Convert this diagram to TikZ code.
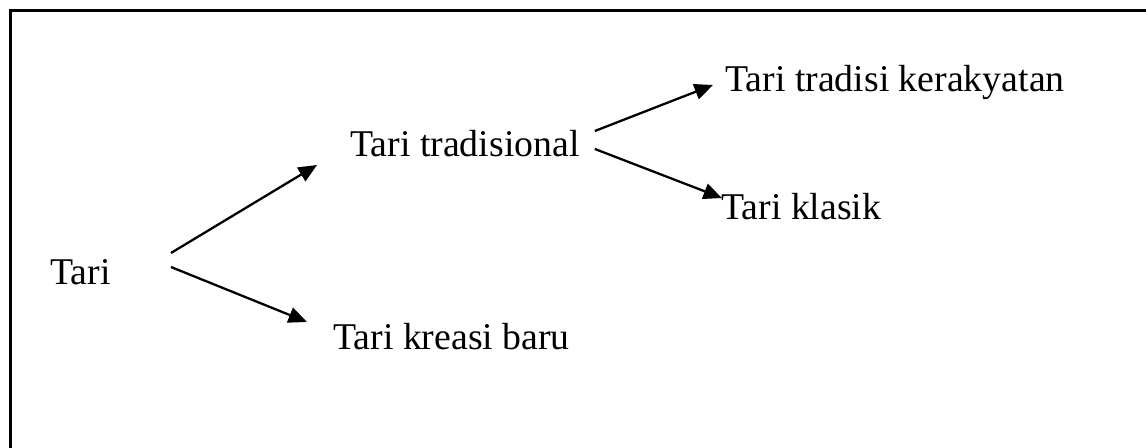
\documentclass[tikz,border=0pt]{standalone}
\usepackage{fontspec}
\setmainfont{Liberation Serif}
\usetikzlibrary{arrows.meta}

\tikzset{
    label/.style={anchor=base west, inner sep=0pt, font=\fontsize{21.5}{25}\selectfont},
    arr/.style={line width=1.3pt, -{Triangle[length=10.5pt, width=9pt]}}
}

\begin{document}
\begin{tikzpicture}[x=0.02cm, y=-0.02cm]
        \useasboundingbox (0, 0) rectangle (1146, 448);
        \clip (0, 0) rectangle (1146, 448);
        \draw[line width=1.3pt] (10.5, 10.5) rectangle (1170, 470);

        \node[label] (tari) at (50, 285) {Tari};
        \node[label] (tradisional) at (350, 157) {Tari tradisional};
        \node[label] (kreasi) at (333, 350) {Tari kreasi baru};
        \node[label] (kerakyatan) at (725, 92) {Tari tradisi kerakyatan};
        \node[label] (klasik) at (721, 220) {Tari klasik};

        \draw[arr] ([shift={(60, -32)}]tari.base east) -- ([shift={(-33, 8)}]tradisional.base west);
        \draw[arr] ([shift={(60, -18)}]tari.base east) -- ([shift={(-26, -28)}]kreasi.base west);
        \draw[arr] ([shift={(15, -26)}]tradisional.base east) -- ([shift={(-12, -7)}]kerakyatan.base west);
        \draw[arr] ([shift={(15, -8)}]tradisional.base east) -- ([shift={(1, -22)}]klasik.base west);
    \end{tikzpicture}
\end{document}
